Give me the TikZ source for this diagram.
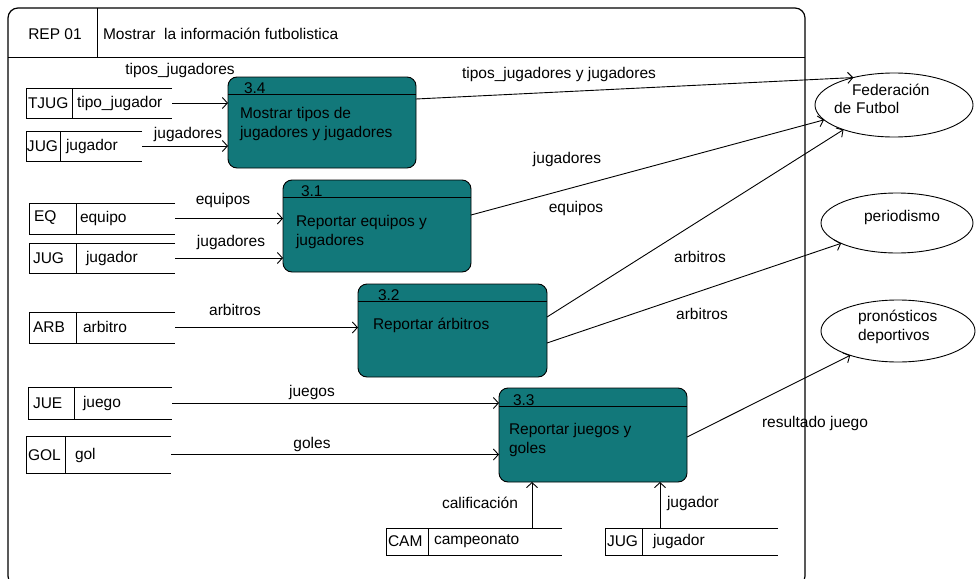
\documentclass[tikz,border=0pt]{standalone}
\usepackage{fontspec}
\setmainfont{Liberation Sans}
\usetikzlibrary{arrows.meta,calc,shapes.geometric}
\definecolor{procteal}{RGB}{18,120,122}
\tikzset{
  every node/.style={font=\fontsize{15.5}{19}\selectfont, inner sep=0pt, outer sep=0pt},
  ln/.style={line width=0.9pt},
  flow/.style={ln, -{Straight Barb[length=5pt,width=11pt,line width=0.9pt]}},
  procbox/.style={draw, ln, fill=procteal, rounded corners=9pt, anchor=north west},
  storebox/.style={anchor=north west},
  entity/.style={draw, ln, ellipse},
  lbl/.style={},
  txt/.style={anchor=west, align=left}
}
\newcommand\dstore[6]{%
  \node[storebox, minimum width={(#4-#2)*1pt}, minimum height={(#5-#3)*1pt}] (#1) at (#2,#3) {};
  \draw[ln] (#1.north east) -- (#1.north west) -- (#1.south west) -- (#1.south east);
  \draw[ln] (#6,#3) -- (#6,#5);
}
\newcommand\dproc[6]{%
  \node[procbox, minimum width={(#4-#2)*1pt}, minimum height={(#5-#3)*1pt}] (#1) at (#2,#3) {};
  \draw[ln] ($(#1.north west)+(0,#6)$) -- ($(#1.north east)+(0,#6)$);
}
\begin{document}
\begin{tikzpicture}[x=1pt,y=-1pt]
\useasboundingbox (0,0) rectangle (976,578);
\clip (0,0) rectangle (976,578);
\fill[white] (0,0) rectangle (976,578);

% frame
\draw[line width=1.2pt, rounded corners=10pt] (8,8) rectangle (805,586);
\draw[ln] (8,57) -- (805,57);
\draw[ln] (97,8) -- (97,57);
\node (t1) at (55,34) {REP 01};
\node[anchor=west] (t2) at (103,34) {Mostrar\ \ la información futbolistica};

% processes
\dproc{p34}{228}{77}{416}{168}{17}
\dproc{p31}{283}{180}{471}{272}{17}
\dproc{p32}{358}{284}{547}{377}{17}
\dproc{p33}{499}{388}{687}{482}{18}
\node[anchor=base west] (n34) at (244,93) {3.4};
\node[anchor=base west] (n31) at (301,196) {3.1};
\node[anchor=base west] (n32) at (378,300) {3.2};
\node[anchor=base west] (n33) at (513,405) {3.3};
\node[txt] (d34) at (240,124) {Mostrar tipos de\\jugadores y jugadores};
\node[txt] (d31) at (296,232) {Reportar equipos y\\jugadores};
\node[txt] (d32) at (373,325) {Reportar árbitros};
\node[txt] (d33) at (509,440) {Reportar juegos y\\goles};

% stores
\dstore{tjug}{26}{88}{172}{118}{72}
\dstore{jug1}{26}{131}{142}{161}{60}
\dstore{eq}{29}{203}{175}{234}{76}
\dstore{jug2}{29}{243}{175}{273}{76}
\dstore{arb}{29}{312}{175}{343}{76}
\dstore{jue}{28}{387}{172}{419}{74}
\dstore{gol}{26}{436}{171}{473}{65}
\dstore{cam}{386}{528}{562}{555}{428}
\dstore{jug3}{605}{528}{778}{555}{642}
\node[anchor=west] at (28,103) {TJUG};
\node[anchor=west] at (77,103) {tipo\_jugador};
\node[anchor=west] at (27,146) {JUG};
\node[anchor=west] at (66,146) {jugador};
\node[anchor=west] at (34,218) {EQ};
\node[anchor=west] at (80,218) {equipo};
\node[anchor=west] at (33,258) {JUG};
\node[anchor=west] at (86,258) {jugador};
\node[anchor=west] at (33,327) {ARB};
\node[anchor=west] at (83,327) {arbitro};
\node[anchor=west] at (33,403) {JUE};
\node[anchor=west] at (83,403) {juego};
\node[anchor=west] at (28,455) {GOL};
\node[anchor=west] at (75,455) {gol};
\node[anchor=west] at (388,541) {CAM};
\node[anchor=west] at (434,541) {campeonato};
\node[anchor=west] at (607,541) {JUG};
\node[anchor=west] at (653,541) {jugador};

% entities
\node[entity, minimum width=158pt, minimum height=64pt] (fed) at (894,105) {};
\node[entity, minimum width=152pt, minimum height=60pt] (per) at (897,223) {};
\node[entity, minimum width=154pt, minimum height=62pt] (pro) at (898,331) {};
\node[anchor=west] at (852,90) {Federación};
\node[anchor=west] at (834,108) {de\hspace{5pt}Futbol};
\node at (902,217) {periodismo};
\node[txt] at (858,327) {pronósticos\\deportivos};

% input flows
\draw[flow] (tjug.east) -- (tjug.east -| p34.west);
\draw[flow] (jug1.east) -- (jug1.east -| p34.west);
\draw[flow] (eq.east) -- (eq.east -| p31.west);
\draw[flow] (jug2.east) -- (jug2.east -| p31.west);
\draw[flow] (arb.east) -- (arb.east -| p32.west);
\draw[flow] (jue.east) -- (jue.east -| p33.west);
\draw[flow] (gol.east) -- (gol.east -| p33.west);
\coordinate (cx1) at (532,0);
\coordinate (cx2) at (660,0);
\draw[flow] (cam.north -| cx1) -- (p33.south -| cx1);
\draw[flow] (jug3.north -| cx2) -- (p33.south -| cx2);

% output flows
\draw[flow] ($(p34.north east)+(0,22)$) -- (fed.146);
\draw[flow] ($(p31.north east)+(0,35)$) -- (fed.192);
\draw[flow] ($(p32.north east)+(0,33)$) -- (fed.206);
\draw[flow] ($(p32.north east)+(0,59)$) -- (per.200);
\draw[flow] ($(p33.north east)+(0,49)$) -- (pro.207);

% flow labels
\node at (180,70) {tipos\_jugadores};
\node at (188,134) {jugadores};
\node at (223,200) {equipos};
\node at (231,242) {jugadores};
\node at (235,310) {arbitros};
\node at (312,392) {juegos};
\node at (312,444) {goles};
\node at (480,503) {calificación};
\node[anchor=west] at (667,503) {jugador};
\node at (559,74) {tipos\_jugadores y jugadores};
\node at (567,159) {jugadores};
\node at (576,208) {equipos};
\node at (700,257) {arbitros};
\node at (702,314) {arbitros};
\node at (815,423) {resultado juego};
\end{tikzpicture}
\end{document}
